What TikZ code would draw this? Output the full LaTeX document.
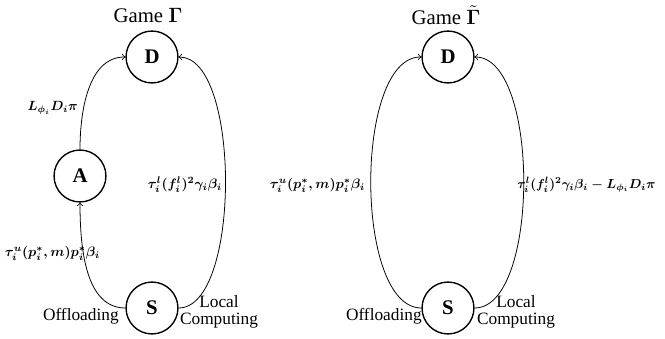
\documentclass[tikz,border=0pt]{standalone}
\usepackage{amsmath}
\usepackage{bm}
\usepackage{graphicx}
\usepackage[no-math]{fontspec}
\setmainfont{Liberation Serif}
\newcommand{\fitlab}[2]{\resizebox{#1}{!}{\boldmath$#2$}}
\begin{document}
\begin{tikzpicture}[x=0.578pt,y=-0.578pt,
  state/.style={circle,draw,line width=0.8pt,minimum size=30pt,inner sep=0pt,font=\large\bfseries},
  lab/.style={inner sep=0pt},
  txt/.style={inner sep=0pt,align=center,font=\normalsize},
  conn/.style={->,line width=0.45pt}]
\useasboundingbox (0,0) rectangle (665,339);
% left game
\node[font=\large] (g1) at (148,15) {Game $\boldsymbol{\Gamma}$};
\node[state] (D1) at (152,57) {D};
\node[state] (A1) at (80,176) {A};
\node[state] (S1) at (152,308) {S};
\draw[conn] (A1.north) .. controls (80,112) and (88,57) .. (D1.west);
\draw[conn] (S1.west) .. controls (86,308) and (80,250) .. (A1.south);
\draw[conn] (S1.east) .. controls (241,308) and (241,57) .. (D1.east);
\node[lab,anchor=east] (l1) at (78,108) {\fitlab{28.9pt}{L_{\phi_i}D_i\pi}};
\node[lab] (l2) at (185,185) {\fitlab{42.8pt}{\tau_i^l(f_i^l)^2\gamma_i\beta_i}};
\node[lab] (l3) at (52.5,253) {\fitlab{55pt}{\tau_i^u(p_i^*,m)p_i^*\beta_i}};
\node[txt,anchor=east] (o1) at (119,316) {Offloading};
\node[txt] (c1) at (219,312) {Local\\[-2pt]Computing};
% right game
\node[font=\large] (g2) at (446,15) {Game $\tilde{\boldsymbol{\Gamma}}$};
\node[state] (D2) at (448,57) {D};
\node[state] (S2) at (448,308) {S};
\draw[conn] (S2.west) .. controls (354,308) and (354,57) .. (D2.west);
\draw[conn] (S2.east) .. controls (540,308) and (540,57) .. (D2.east);
\node[lab] (l4) at (317.5,185) {\fitlab{55pt}{\tau_i^u(p_i^*,m)p_i^*\beta_i}};
\node[lab,anchor=west] (l5) at (517,185) {\fitlab{79.8pt}{\tau_i^l(f_i^l)^2\gamma_i\beta_i-L_{\phi_i}D_i\pi}};
\node[txt,anchor=east] (o2) at (422,316) {Offloading};
\node[txt] (c2) at (516,312) {Local\\[-2pt]Computing};
\end{tikzpicture}
\end{document}
